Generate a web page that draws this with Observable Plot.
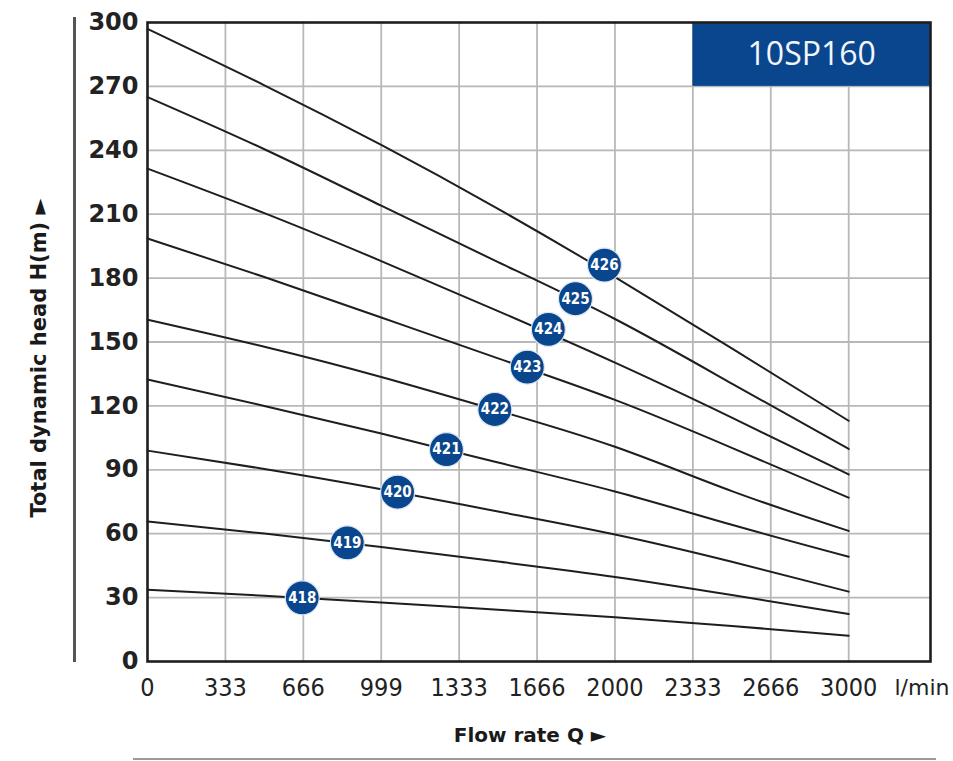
<!DOCTYPE html>
<html>
<head>
<meta charset="utf-8">
<script src="https://cdn.jsdelivr.net/npm/d3@7"></script>
<script src="https://cdn.jsdelivr.net/npm/@observablehq/plot@0.6"></script>
<style>
  html, body { margin: 0; padding: 0; background: #fff; }
  #wrap { position: relative; width: 953px; height: 761px; overflow: hidden; }
  .vline { position: absolute; left: 73px; top: 17px; width: 2.5px; height: 645px; background: #555; }
  .hline { position: absolute; left: 133px; top: 758px; width: 803px; height: 1.5px; background: #9a9a9a; }
  svg { display: block; }
</style>
</head>
<body>
<div id="wrap">
  <div class="vline"></div>
  <div class="hline"></div>
</div>
<script>
// ---- data ----
const flow = [0, 500, 1000, 1500, 2000, 2500, 3000];
const models = ["418", "419", "420", "421", "422", "423", "424", "425", "426"];
const head418 = [33.7, 30.9, 27.7, 24.3, 20.8, 16.7, 12.1];
const head419 = [65.7, 60.1, 53.8, 46.9, 39.7, 31.2, 22.3];
const head420 = [99.0, 90.4, 80.9, 70.4, 59.6, 46.8, 32.8];
const head421 = [132.4, 120.0, 107.0, 93.4, 79.8, 64.2, 49.2];
const head422 = [160.5, 147.8, 133.6, 117.8, 100.8, 80.0, 61.3];
const head423 = [198.6, 180.5, 161.5, 142.3, 122.8, 100.3, 76.9];
const head424 = [231.4, 210.5, 188.0, 164.5, 140.3, 114.5, 87.8];
const head425 = [265.0, 240.5, 214.0, 187.5, 160.8, 130.5, 99.8];
const head426 = [297.0, 270.5, 242.5, 212.5, 180.5, 147.0, 113.0];
const badgeFlow = [662, 855, 1070, 1279, 1486, 1625, 1715, 1831, 1955];
const badgeHead = [29.9, 55.7, 79.5, 99.5, 118.3, 138.2, 155.9, 170.3, 186.1];

const xTickValues = [0, 333.33, 666.67, 1000, 1333.33, 1666.67, 2000, 2333.33, 2666.67, 3000];
const xTickLabels = ["0", "333", "666", "999", "1333", "1666", "2000", "2333", "2666", "3000"];
const yTickValues = [0, 30, 60, 90, 120, 150, 180, 210, 240, 270, 300];
const xDomain = [0, 3350];
const yDomain = [0, 300];

const title = "10SP160";
const titleBox = {x1: 2333.33, x2: 3350, y1: 270, y2: 300};
const xLabel = "Flow rate Q \u25BA";
const yLabel = "Total dynamic head H(m) \u25BA";
const unitLabel = "l/min";

// ---- build table ----
const heads = [head418, head419, head420, head421, head422, head423, head424, head425, head426];
const curves = [];
models.forEach((m, i) => heads[i].forEach((h, j) => curves.push({model: m, q: flow[j], h})));
const badges = models.map((m, i) => ({model: m, q: badgeFlow[i], h: badgeHead[i]}));

const blue = "#0a468d";
const ink = "#1e1e1e";
const labelFont = "'DejaVu Sans', sans-serif";

const chart = Plot.plot({
  width: 953,
  height: 761,
  marginLeft: 147,
  marginRight: 23,
  marginTop: 22,
  marginBottom: 100,
  x: {domain: xDomain, axis: null},
  y: {domain: yDomain, axis: null},
  style: {fontFamily: "'Liberation Sans', Arial, sans-serif", background: "#fff"},
  marks: [
    Plot.gridX(xTickValues.slice(1), {stroke: "#b8b8b8", strokeOpacity: 1, strokeWidth: 1.8}),
    Plot.gridY(yTickValues.slice(1, -1), {stroke: "#b8b8b8", strokeOpacity: 1, strokeWidth: 1.8}),
    Plot.rect([titleBox], {x1: "x1", x2: "x2", y1: "y1", y2: "y2", fill: blue}),
    Plot.text([title], {x: (titleBox.x1 + titleBox.x2) / 2, y: (titleBox.y1 + titleBox.y2) / 2,
      fill: "#f2f6fb", fontSize: 32, fontFamily: "'Open Sans', 'DejaVu Sans', sans-serif", fontWeight: 500}),
    Plot.line(curves, {x: "q", y: "h", z: "model", stroke: ink, strokeWidth: 2, curve: "natural"}),
    Plot.dot(badges, {x: "q", y: "h", r: 17, fill: blue, stroke: "#dbe6f3", strokeWidth: 1.2}),
    Plot.text(badges, {x: "q", y: "h", text: "model", fill: "#fff", fontSize: 15, fontWeight: "bold",
      fontFamily: "'Liberation Sans Narrow', 'DejaVu Sans Condensed', sans-serif", letterSpacing: -0.5}),
    Plot.frame({stroke: ink, strokeWidth: 2.6}),
    // y tick labels
    Plot.text(yTickValues, {x: 0, y: d => d, text: d => String(d), textAnchor: "end", dx: -9,
      fontSize: 24, fontWeight: "bold", fill: "#222", fontFamily: labelFont}),
    // x tick labels
    Plot.text(xTickValues, {x: d => d, y: 0, text: (d, i) => xTickLabels[i], dy: 26,
      fontSize: 25, fill: "#222", fontFamily: "'Liberation Sans Narrow', 'DejaVu Sans Condensed', sans-serif"}),
    Plot.text([unitLabel], {x: xDomain[1], y: 0, textAnchor: "start", dx: -36, dy: 26,
      fontSize: 22, fill: "#222", fontFamily: labelFont}),
    // axis titles
    Plot.text([xLabel], {frameAnchor: "bottom", textAnchor: "middle", lineAnchor: "middle", dx: -9, dy: 74,
      fontSize: 20, fontWeight: "bold", fill: "#1a1a1a", fontFamily: labelFont}),
    Plot.text([yLabel], {frameAnchor: "left", textAnchor: "middle", lineAnchor: "middle", rotate: -90, dx: -108, dy: 16,
      fontSize: 21, fontWeight: "bold", fill: "#1a1a1a", fontFamily: labelFont})
  ]
});
document.getElementById("wrap").prepend(chart);
</script>
</body>
</html>
